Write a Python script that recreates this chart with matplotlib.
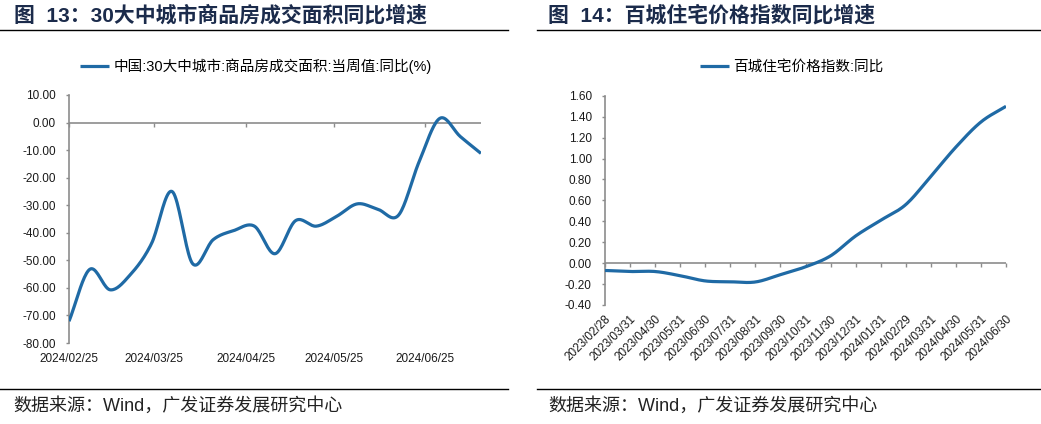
import numpy as np
import matplotlib
matplotlib.use('Agg')
import matplotlib.pyplot as plt
import matplotlib.dates as mdates

plt.rcParams['font.family'] = ['Liberation Sans', 'Noto Sans CJK SC', 'DejaVu Sans']

# left chart: weekly YoY of transaction area, 30 cities
weeks = ['2024-02-25', '2024-03-03', '2024-03-10', '2024-03-17', '2024-03-24',
         '2024-03-31', '2024-04-07', '2024-04-14', '2024-04-21', '2024-04-28',
         '2024-05-05', '2024-05-12', '2024-05-19', '2024-05-26', '2024-06-02',
         '2024-06-09', '2024-06-16', '2024-06-23', '2024-06-30', '2024-07-07',
         '2024-07-14']
area_yoy = [-72.1, -53.3, -60.7, -55.0, -44.0, -25.0, -51.2, -42.5, -39.2, -37.6,
            -47.6, -35.6, -37.6, -34.0, -29.5, -31.5, -33.6, -14.2, 1.5, -5.1, -11.2]
left_ticks = ['2024-02-25', '2024-03-25', '2024-04-25', '2024-05-25', '2024-06-25']

# right chart: monthly YoY of 100-city residential price index
months = ['2023/02/28', '2023/03/31', '2023/04/30', '2023/05/31', '2023/06/30',
          '2023/07/31', '2023/08/31', '2023/09/30', '2023/10/31', '2023/11/30',
          '2023/12/31', '2024/01/31', '2024/02/29', '2024/03/31', '2024/04/30',
          '2024/05/31', '2024/06/30']
price_yoy = [-0.07, -0.08, -0.08, -0.12, -0.17, -0.178, -0.18, -0.11, -0.035, 0.07,
             0.26, 0.41, 0.56, 0.83, 1.11, 1.35, 1.50]

BLUE = '#1f6aa5'
GRAY = '#8c8c8c'
NAVY = '#1b2b4b'


def smooth(x, y, n=20):
    # catmull-rom style curve through the points, like excel's smoothed line
    x = np.asarray(x, float)
    y = np.asarray(y, float)
    px = np.concatenate([[2 * x[0] - x[1]], x, [2 * x[-1] - x[-2]]])
    py = np.concatenate([[2 * y[0] - y[1]], y, [2 * y[-1] - y[-2]]])
    xs, ys = [], []
    t = np.linspace(0, 1, n, endpoint=False)
    for i in range(1, len(px) - 2):
        for p, out in ((px, xs), (py, ys)):
            p0, p1, p2, p3 = p[i - 1], p[i], p[i + 1], p[i + 2]
            out.append(0.5 * (2 * p1 + (-p0 + p2) * t + (2 * p0 - 5 * p1 + 4 * p2 - p3) * t ** 2
                              + (-p0 + 3 * p1 - 3 * p2 + p3) * t ** 3))
    xs.append([x[-1]])
    ys.append([y[-1]])
    return np.concatenate(xs), np.concatenate(ys)


def style_axes(ax):
    for s in ['top', 'right', 'bottom']:
        ax.spines[s].set_visible(False)
    ax.spines['left'].set_color(GRAY)
    ax.spines['left'].set_linewidth(1.2)
    ax.tick_params(axis='y', direction='out', length=2.5, width=1, color=GRAY,
                   labelsize=8.5, pad=7, labelcolor='#1a1a1a')
    ax.tick_params(axis='x', length=0, labelsize=8.5, labelcolor='#1a1a1a')
    ax.axhline(0, color=GRAY, lw=1.2, zorder=1)


fig = plt.figure(figsize=(10.41, 4.24), dpi=100)

# ---- left
ax1 = fig.add_axes([0.0663, 0.191, 0.3957, 0.585])
xd = mdates.date2num(np.array(weeks, dtype='datetime64[D]'))
sx, sy = smooth(xd, area_yoy)
ax1.plot(sx, sy, color=BLUE, lw=2.3, solid_capstyle='butt', zorder=3)
ax1.set_ylim(-80, 10)
ax1.set_yticks(np.arange(-80, 11, 10))
ax1.yaxis.set_major_formatter(matplotlib.ticker.FormatStrFormatter('%.2f'))
ax1.set_xlim(xd[0], xd[-1])
tk = mdates.date2num(np.array(left_ticks, dtype='datetime64[D]'))
ax1.set_xticks(tk)
ax1.set_xticklabels([t.replace('-', '/') for t in left_ticks])
style_axes(ax1)
ax1.tick_params(axis='x', pad=7)
sec1 = ax1.secondary_xaxis(0, transform=ax1.transData)
sec1.set_xticks(tk)
sec1.tick_params(direction='out', length=3, width=1, color=GRAY, labelbottom=False)
sec1.spines['bottom'].set_visible(False)

ax1.legend(['中国:30大中城市:商品房成交面积:当周值:同比(%)'], loc='center',
           bbox_to_anchor=(0.454, 1.117), frameon=False, fontsize=10.5,
           handlelength=2.0, handletextpad=0.3)

# ---- right
ax2 = fig.add_axes([0.5812, 0.2807, 0.3852, 0.4933])
xi = np.arange(len(months))
sx2, sy2 = smooth(xi, price_yoy)
ax2.plot(sx2, sy2, color=BLUE, lw=2.3, solid_capstyle='butt', zorder=3)
ax2.set_ylim(-0.4, 1.6)
ax2.set_yticks(np.arange(-0.4, 1.61, 0.2))
ax2.yaxis.set_major_formatter(matplotlib.ticker.FormatStrFormatter('%.2f'))
ax2.set_xlim(0, len(months) - 1)
ax2.set_xticks(xi)
ax2.set_xticklabels(months, rotation=45, ha='right', rotation_mode='anchor')
style_axes(ax2)
ax2.tick_params(axis='x', pad=6)
sec2 = ax2.secondary_xaxis(0, transform=ax2.transData)
sec2.set_xticks(xi)
sec2.tick_params(direction='out', length=3, width=1, color=GRAY, labelbottom=False)
sec2.spines['bottom'].set_visible(False)

ax2.legend(['百城住宅价格指数:同比'], loc='center',
           bbox_to_anchor=(0.465, 1.137), frameon=False, fontsize=10.5,
           handlelength=2.0, handletextpad=0.3)

# ---- titles, rules and sources
fig.text(14 / 1041, 1 - 15 / 424, '图  13：30大中城市商品房成交面积同比增速', fontsize=15,
         fontweight='bold', color=NAVY, va='center', ha='left')
fig.text(548 / 1041, 1 - 15 / 424, '图  14：百城住宅价格指数同比增速', fontsize=15,
         fontweight='bold', color=NAVY, va='center', ha='left')
for x0, x1 in [(0, 508), (537, 1041)]:
    fig.add_artist(plt.Line2D([x0 / 1041, x1 / 1041], [1 - 30 / 424] * 2, color='black', lw=1))
    fig.add_artist(plt.Line2D([x0 / 1041, x1 / 1041], [1 - 389 / 424] * 2, color='black', lw=1))
fig.text(13 / 1041, 1 - 406 / 424, '数据来源：Wind，广发证券发展研究中心', fontsize=13,
         color='#222222', va='center', ha='left')
fig.text(548 / 1041, 1 - 406 / 424, '数据来源：Wind，广发证券发展研究中心', fontsize=13,
         color='#222222', va='center', ha='left')

fig.savefig('out.png', dpi=100)
